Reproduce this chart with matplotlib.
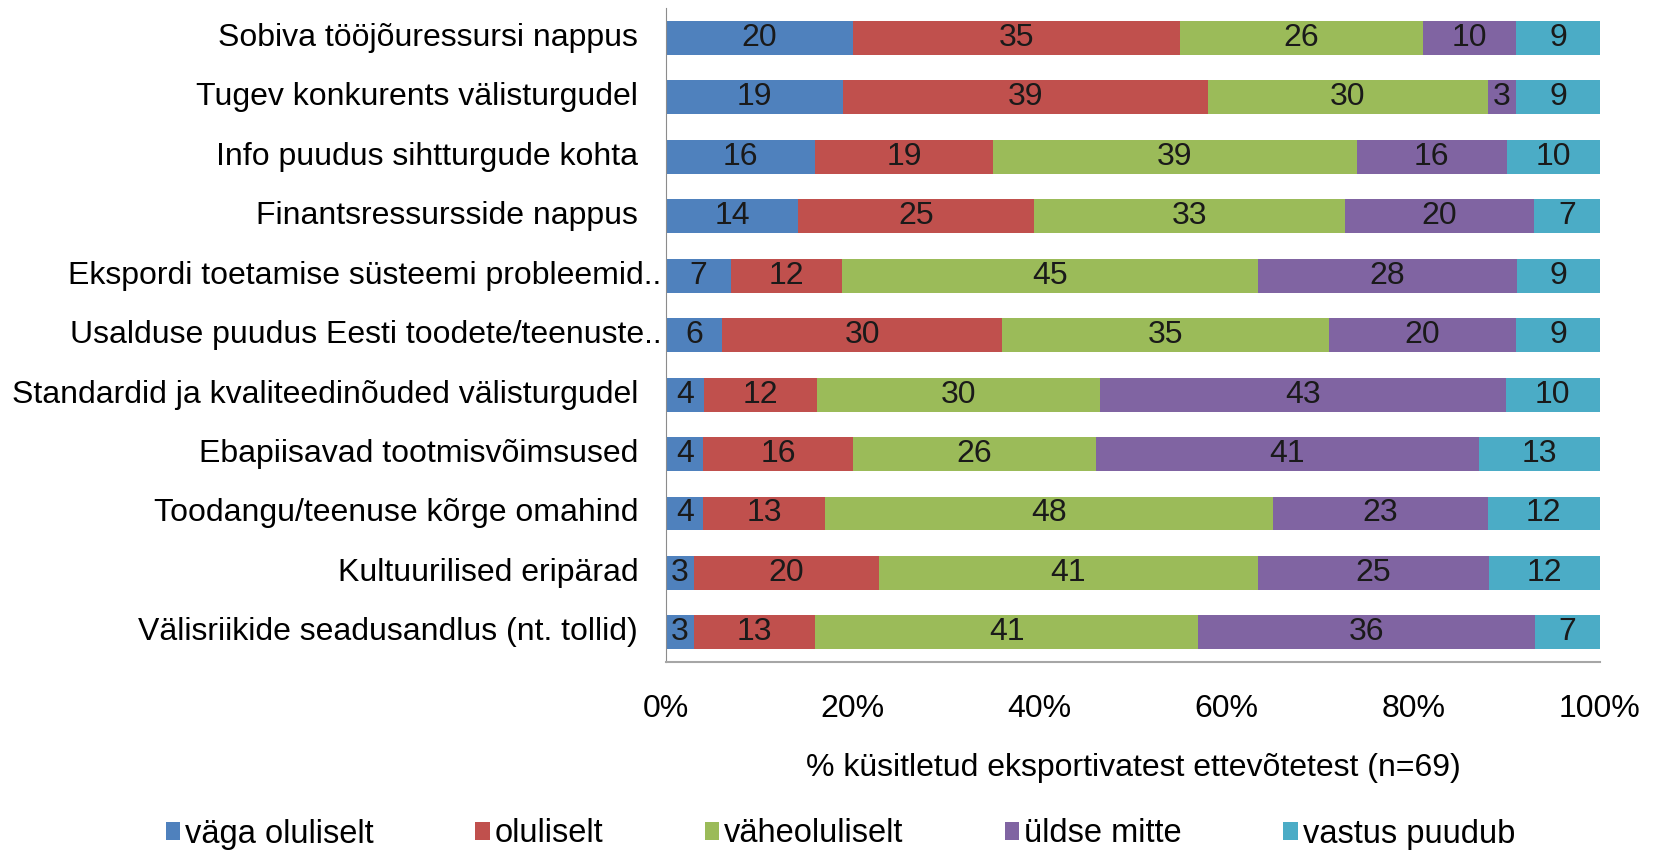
import numpy as np
import matplotlib
matplotlib.use("Agg")
import matplotlib.pyplot as plt
from matplotlib.patches import Patch

# ---------------------------------------------------------------------------
# Data
# ---------------------------------------------------------------------------
categories = [
    "Sobiva tööjõuressursi nappus",
    "Tugev konkurents välisturgudel",
    "Info puudus sihtturgude kohta",
    "Finantsressursside nappus",
    "Ekspordi toetamise süsteemi probleemid..",
    "Usalduse puudus Eesti toodete/teenuste..",
    "Standardid ja kvaliteedinõuded välisturgudel",
    "Ebapiisavad tootmisvõimsused",
    "Toodangu/teenuse kõrge omahind",
    "Kultuurilised eripärad",
    "Välisriikide seadusandlus (nt. tollid)",
]
series_names = ["väga oluliselt", "oluliselt", "väheoluliselt", "üldse mitte", "vastus puudub"]
vaga = [20, 19, 16, 14, 7, 6, 4, 4, 4, 3, 3]
oluliselt = [35, 39, 19, 25, 12, 30, 12, 16, 13, 20, 13]
vahe = [26, 30, 39, 33, 45, 35, 30, 26, 48, 41, 41]
uldse = [10, 3, 16, 20, 28, 20, 43, 41, 23, 25, 36]
puudub = [9, 9, 10, 7, 9, 9, 10, 13, 12, 12, 7]
xticks = [0, 20, 40, 60, 80, 100]
xlabel = "% küsitletud eksportivatest ettevõtetest (n=69)"

COLORS = ["#4F81BD", "#C0504D", "#9BBB59", "#8064A2", "#4BACC6"]
FS = 23

plt.rcParams["font.family"] = ["Liberation Sans", "DejaVu Sans"]

fig = plt.figure(figsize=(16.58, 8.5), dpi=100)
ax = fig.add_axes([0.4017, 0.221, 0.965 - 0.4017, 0.9905 - 0.221])

vals = np.array([vaga, oluliselt, vahe, uldse, puudub], dtype=float)
pct = vals / vals.sum(axis=0) * 100  # 100% stacked
y = np.arange(len(categories))
left = np.zeros(len(categories))
for i, name in enumerate(series_names):
    ax.barh(y, pct[i], left=left, height=0.57, color=COLORS[i], label=name)
    for j in range(len(categories)):
        ax.text(left[j] + pct[i][j] / 2, y[j], f"{int(vals[i][j])}",
                ha="center", va="center", fontsize=FS, color="#1a1a1a")
    left += pct[i]

ax.set_ylim(len(categories) - 0.5, -0.5)
ax.set_xlim(0, 100)
ax.set_xticks(xticks)
ax.set_xticklabels([f"{t}%" for t in xticks], fontsize=FS)
ax.tick_params(axis="x", length=0, pad=23)
ax.set_yticks([])
ax.set_xlabel(xlabel, fontsize=FS, labelpad=21)

# category labels (truncated ones sit closer to the axis, as in the source)
for j, cat in enumerate(categories):
    off = -3.5 if cat.endswith("..") else -20
    ax.annotate(cat, xy=(0, j), xycoords=ax.get_yaxis_transform(),
                xytext=(off, 0), textcoords="offset points",
                ha="right", va="center", fontsize=FS)

for s in ["top", "right"]:
    ax.spines[s].set_visible(False)
ax.spines["left"].set_color("#8C8C8C")
ax.spines["bottom"].set_color("#A6A6A6")
ax.spines["bottom"].set_linewidth(1.5)

handles = [Patch(facecolor=c, edgecolor="none") for c in COLORS]
fig.legend(handles, series_names, loc="center left",
           bbox_to_anchor=(0.1, 1 - 834 / 850), ncol=5, frameon=False,
           fontsize=23.5, handlelength=0.45, handleheight=0.45,
           handletextpad=0.15, columnspacing=3.1, borderpad=0, borderaxespad=0)

fig.savefig("out.png", dpi=100)
